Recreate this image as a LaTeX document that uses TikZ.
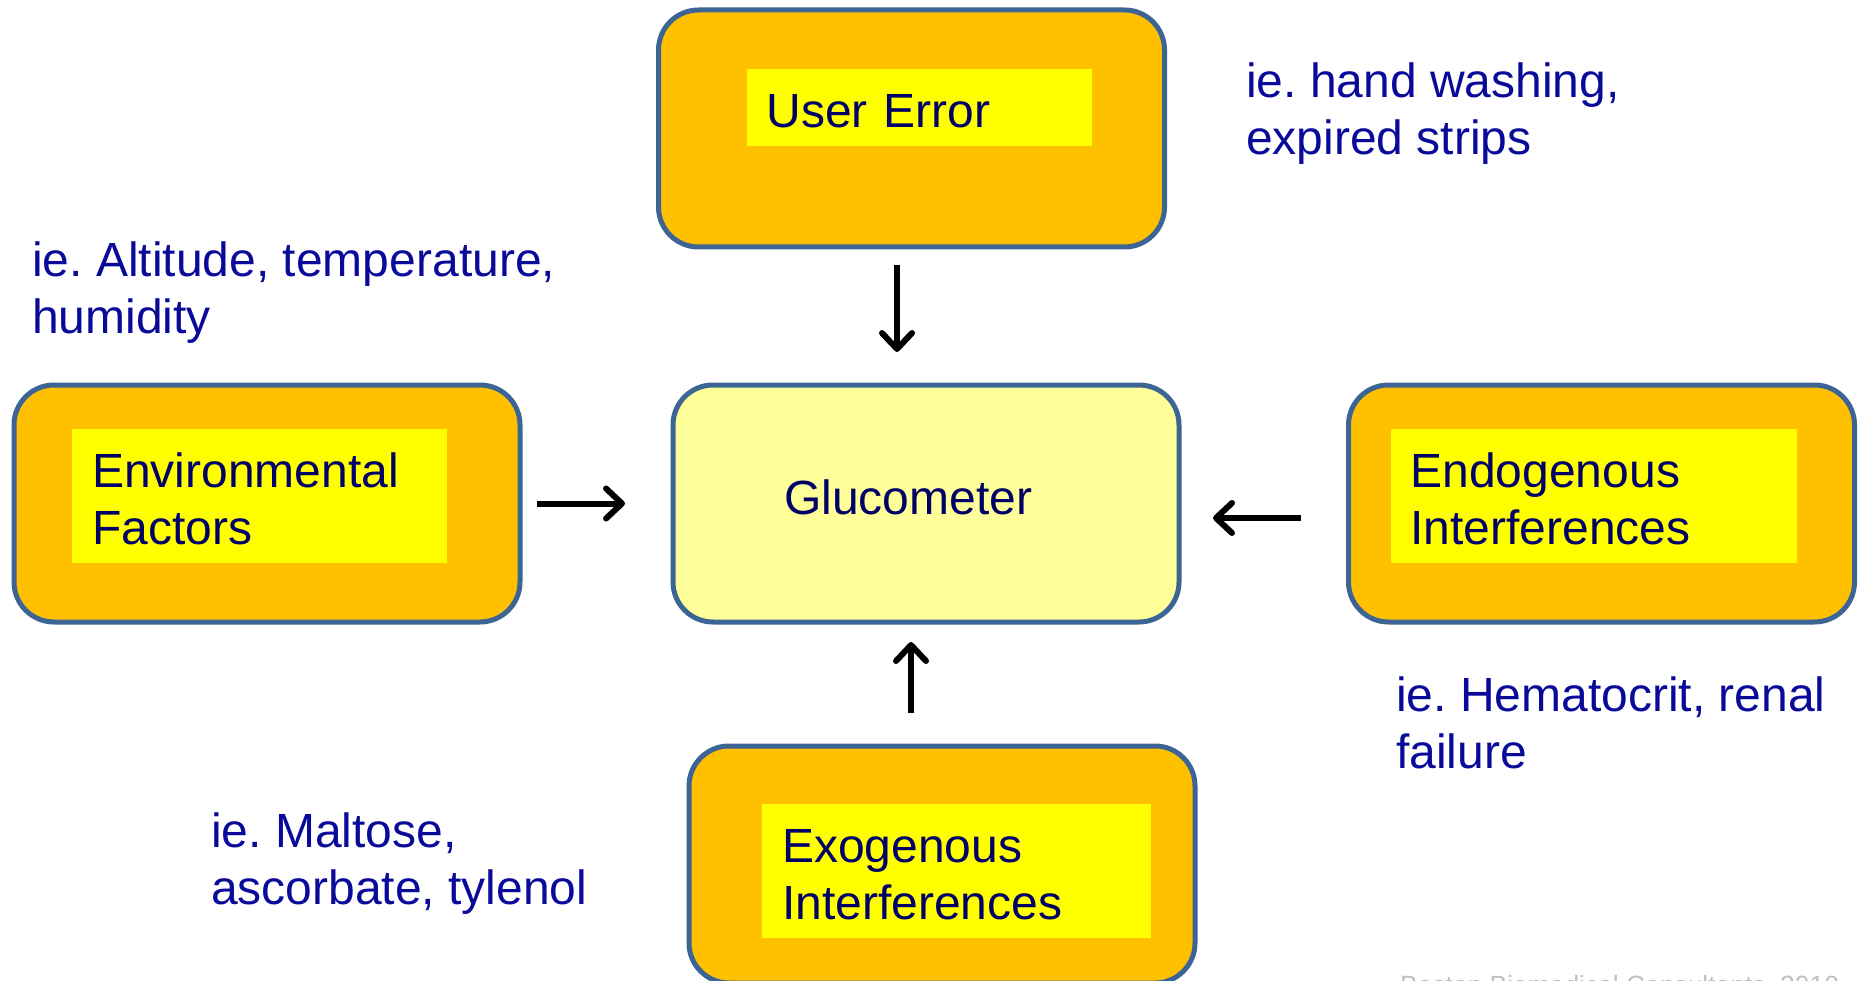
\documentclass[tikz,border=0pt]{standalone}
\usepackage{fontspec}
\setmainfont{Liberation Sans}
\frenchspacing
\usetikzlibrary{positioning,arrows.meta}
\definecolor{boxorange}{HTML}{FFC000}
\definecolor{boxyellow}{HTML}{FFFF00}
\definecolor{glucofill}{HTML}{FFFF99}
\definecolor{edgeblue}{HTML}{3C6494}
\definecolor{navy}{HTML}{000066}
\definecolor{labelblue}{HTML}{0A0A9A}
\definecolor{footgray}{HTML}{BFBFBF}

\begin{document}
\begin{tikzpicture}[x=1pt,y=1pt,>={Straight Barb[round,length=16pt,width=30pt]},
    outer box/.style={draw=edgeblue,line width=5pt,rounded corners=40pt,fill=boxorange,minimum width=506pt,minimum height=237pt,outer sep=0pt},
    inner box/.style={fill=boxyellow,text=navy,font=\fontsize{48}{57}\selectfont,align=left,inner sep=0pt,inner xsep=20pt,minimum height=134pt,outer sep=0pt,text height=41pt},
    note text/.style={text=labelblue,font=\fontsize{48}{57}\selectfont,align=left,inner sep=0pt,anchor=west},
    flow/.style={->,line width=6pt}]

                \useasboundingbox (0,0) rectangle (1860,-981);

                \node[outer box, fill=glucofill, text=navy, font=\fontsize{48}{57}\selectfont, align=left, text width=284pt, inner xsep=111pt, text depth=12pt] (1) at (926,-503.5) {Glucometer};
                \node[outer box] (2) [above=138pt of 1, xshift=-14.5pt] {};
                \node[outer box] (3) [left=153pt of 1] {};
                \node[outer box] (4) [right=169.5pt of 1] {};
                \node[outer box] (5) [below=124pt of 1, xshift=16pt] {};

                \node[inner box, text width=305pt, minimum height=77pt] (6) [below right=59pt and 88pt of 2.north west] {User Error};
                \node[inner box, text width=335pt] (7) [below right=44pt and 58pt of 3.north west] {Environmental\\Factors};
                \node[inner box, text width=366pt] (8) [below right=44pt and 42pt of 4.north west] {Endogenous\\Interferences};
                \node[inner box, text width=349pt] (9) [below right=58pt and 73pt of 5.north west] {Exogenous\\Interferences};

                \node[note text] (10) at (1246,-114) {ie. hand washing,\\expired strips};
                \node[note text] (11) at (32,-292.5) {ie. Altitude, temperature,\\humidity};
                \node[note text] (12) at (1396,-722.5) {ie. Hematocrit, renal\\failure};
                \node[note text] (13) at (211,-863.5) {ie. Maltose,\\ascorbate, tylenol};
                \node[text=footgray, font=\fontsize{26.4}{30}\selectfont, anchor=base west, inner sep=0pt] (14) at (1400,-994) {Boston Biomedical Consultants, 2010};

                \draw[flow, shorten <=18pt, shorten >=33pt] ([xshift=-14.5pt]2.south) -- ([xshift=-29pt]1.north);
                \draw[flow, shorten <=17pt, shorten >=48pt] (3.east) -- (1.west);
                \draw[flow, shorten <=47.5pt, shorten >=34pt] ([yshift=-14.5pt]4.west) -- ([yshift=-14.5pt]1.east);
                \draw[flow, shorten <=33pt, shorten >=20pt] ([xshift=-31pt]5.north) -- ([xshift=-15pt]1.south);

            \end{tikzpicture}
\end{document}
